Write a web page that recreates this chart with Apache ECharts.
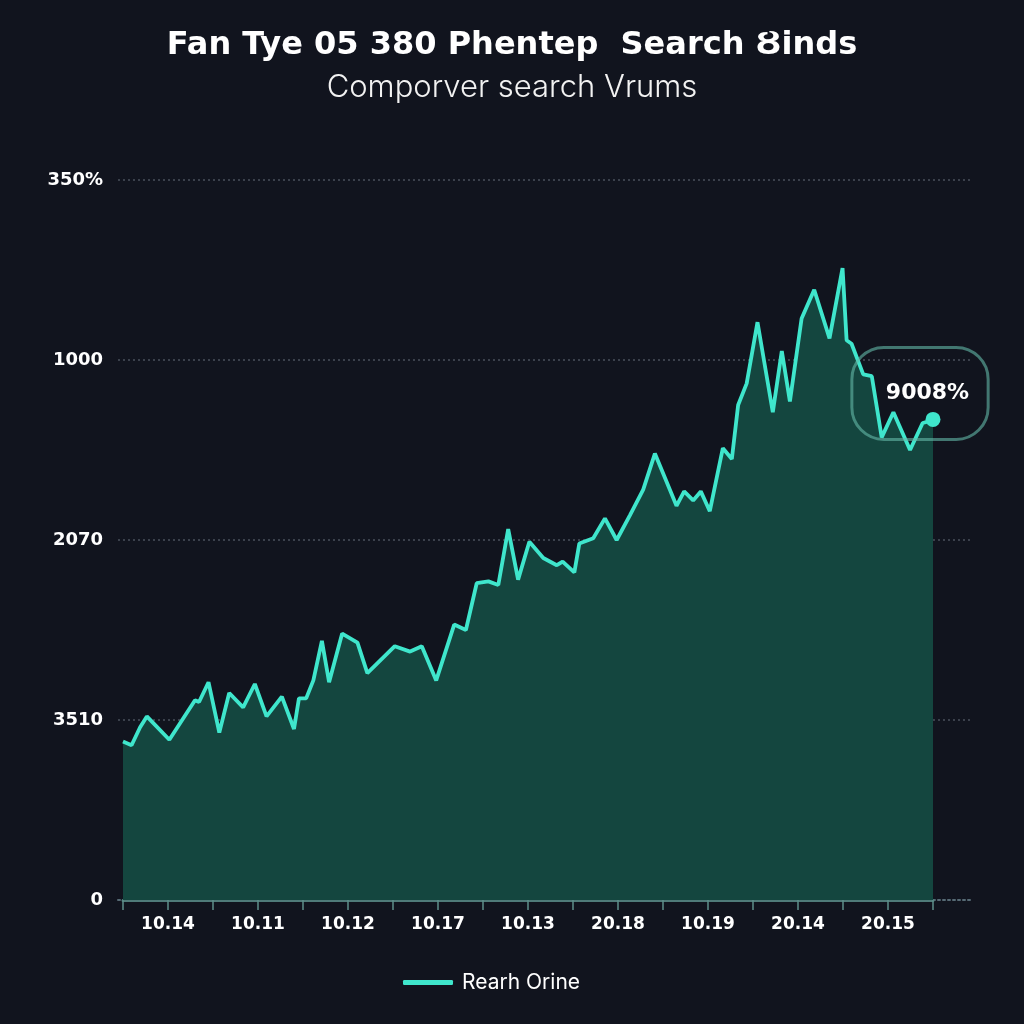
<!DOCTYPE html>
<html>
<head>
<meta charset="utf-8">
<script src="https://cdn.jsdelivr.net/npm/echarts@6/dist/echarts.min.js"></script>
<style>
html,body{margin:0;padding:0;background:#11141e;}
#chart{width:1024px;height:1024px;}
</style>
</head>
<body>
<div id="chart"></div>
<script>
// ---- data ----
const titleText = 'Fan Tye 05 380 Phentep  Search \u0222inds';
const subtitleText = 'Comporver search Vrums';
const xTickLabels = ['10.14','10.11','10.12','10.17','10.13','20.18','10.19','20.14','20.15'];
const yTickLabels = ['0','3510','2070','1000','350%'];
const seriesName = 'Rearh Orine';
const calloutText = '9008%';
// x positions in axis-tick units (0..18), y values in tick units (0..4)
const pointX = [0,0.19,0.38,0.53,1.03,1.6,1.69,1.9,2.14,2.36,2.67,2.93,3.19,3.53,3.8,3.91,4.07,4.23,4.42,4.58,4.87,5.21,5.43,6.04,6.38,6.64,6.96,7.36,7.62,7.86,8.12,8.34,8.56,8.78,9.03,9.34,9.64,9.77,10.03,10.14,10.45,10.71,10.97,11.27,11.56,11.82,12.3,12.47,12.67,12.84,13.04,13.33,13.53,13.67,13.86,14.1,14.44,14.64,14.82,15.08,15.36,15.7,15.99,16.08,16.19,16.45,16.64,16.86,17.12,17.49,17.77,17.92,18.0];
const pointY = [0.88,0.86,0.96,1.02,0.89,1.11,1.10,1.21,0.93,1.15,1.07,1.20,1.02,1.13,0.95,1.12,1.12,1.22,1.44,1.21,1.48,1.43,1.26,1.41,1.38,1.41,1.22,1.53,1.50,1.76,1.77,1.75,2.06,1.78,1.99,1.90,1.86,1.88,1.82,1.98,2.01,2.12,2.00,2.14,2.28,2.48,2.19,2.27,2.22,2.27,2.16,2.51,2.45,2.75,2.87,3.21,2.71,3.05,2.77,3.23,3.39,3.12,3.51,3.11,3.09,2.92,2.91,2.57,2.71,2.50,2.65,2.66,2.67];

const seriesData = pointX.map((x, i) => [x, pointY[i]]);
const last = seriesData[seriesData.length - 1];

const LINE = '#3fe6cc';
const chart = echarts.init(document.getElementById('chart'), null, {renderer: 'canvas'});
chart.setOption({
  backgroundColor: '#11141e',
  animation: false,
  title: [{
    text: titleText,
    left: 'center', top: 25,
    textStyle: {color: '#ffffff', fontFamily: 'DejaVu Sans', fontWeight: 'bold', fontSize: 32}
  }, {
    text: subtitleText,
    left: 'center', top: 67,
    textStyle: {color: '#f2f2f2', fontFamily: 'Inter', fontWeight: 300, fontSize: 31}
  }],
  legend: {
    left: 398, top: 967,
    icon: 'roundRect', itemWidth: 50, itemHeight: 5, itemGap: 10,
    textStyle: {color: '#ffffff', fontFamily: 'Inter', fontSize: 21, padding: [0, 0, 0, 4]},
    data: [seriesName]
  },
  grid: [
    {left: 118, right: 52, top: 180, bottom: 124},
    {left: 123, right: 91, top: 180, bottom: 124}
  ],
  xAxis: [{
    gridIndex: 0, type: 'value', min: 0, max: 1,
    axisLine: {show: true, lineStyle: {color: '#566a74', type: [2, 3], width: 2}},
    axisTick: {show: false}, axisLabel: {show: false}, splitLine: {show: false}
  }, {
    gridIndex: 1, type: 'value', min: 0, max: 18, interval: 1,
    axisLine: {show: true, lineStyle: {color: '#4f7b79', width: 3}},
    axisTick: {show: true, length: 10, lineStyle: {color: '#5d8e8b', width: 1.5}},
    axisLabel: {
      margin: 16, color: '#ffffff', fontFamily: 'DejaVu Sans', fontWeight: 'bold', fontSize: 17,
      formatter: v => (v % 2 === 1 ? xTickLabels[(v - 1) / 2] : '')
    },
    splitLine: {show: false}
  }],
  yAxis: [{
    gridIndex: 0, type: 'value', min: 0, max: 4, interval: 1,
    axisLine: {show: false}, axisTick: {show: false},
    axisLabel: {
      margin: 15, color: '#ffffff', fontFamily: 'DejaVu Sans', fontWeight: 'bold', fontSize: 18,
      formatter: v => yTickLabels[v]
    },
    splitLine: {show: true, lineStyle: {color: '#4a505c', type: [2, 3], width: 1.5}}
  }, {
    gridIndex: 1, type: 'value', min: 0, max: 4, interval: 1,
    axisLine: {show: false}, axisTick: {show: false}, axisLabel: {show: false}, splitLine: {show: false}
  }],
  series: [{
    name: seriesName,
    type: 'line',
    xAxisIndex: 1, yAxisIndex: 1,
    data: seriesData,
    showSymbol: false,
    lineStyle: {color: LINE, width: 3.8},
    itemStyle: {color: LINE},
    areaStyle: {color: '#14463f', opacity: 1},
    markPoint: {
      symbol: 'circle', symbolSize: 15,
      itemStyle: {color: LINE},
      data: [{coord: last, value: calloutText}],
      label: {
        show: true, position: 'inside', offset: [-13, -26],
        formatter: calloutText,
        color: '#ffffff', fontFamily: 'DejaVu Sans', fontWeight: 'bold', fontSize: 22,
        borderColor: 'rgba(100,185,168,0.6)', borderWidth: 1.5, borderRadius: 32,
        padding: [35, 19, 35, 34],
        backgroundColor: 'transparent'
      }
    }
  }]
});
</script>
</body>
</html>
